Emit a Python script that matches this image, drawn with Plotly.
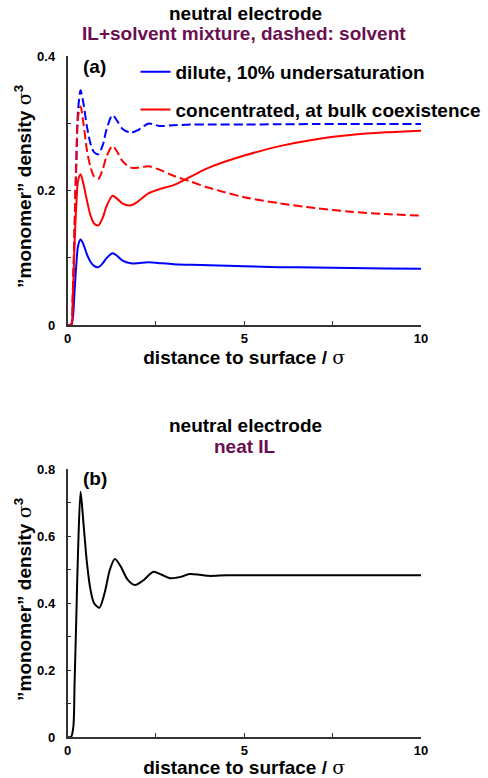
import plotly.graph_objects as go

# ---------------- data (panel a) ----------------
x_a = [0, 0.1, 0.15, 0.2, 0.25, 0.3, 0.37, 0.45, 0.55, 0.65, 0.75, 0.87, 1.0, 1.1, 1.27,
       1.4, 1.55, 1.79, 2.0, 2.3, 2.6, 3.0, 3.5, 4.0, 5.0, 6.0, 7.0, 8.0, 9.0, 10.0]
dilute_il = [0, 0, 0.01, 0.05, 0.09, 0.118, 0.127, 0.12, 0.105, 0.094, 0.088, 0.086, 0.092,
             0.099, 0.1066, 0.103, 0.096, 0.0917, 0.092, 0.0932, 0.092, 0.0905, 0.0895,
             0.089, 0.0875, 0.086, 0.0855, 0.0848, 0.084, 0.0835]
dilute_solvent = [0, 0, 0.04, 0.14, 0.24, 0.32, 0.349, 0.33, 0.295, 0.27, 0.257, 0.254, 0.268,
                  0.29, 0.312, 0.304, 0.292, 0.286, 0.29, 0.2995, 0.296, 0.297, 0.298, 0.298,
                  0.298, 0.2985, 0.2988, 0.299, 0.299, 0.299]
conc_il = [0, 0, 0.04, 0.12, 0.18, 0.215, 0.224, 0.21, 0.185, 0.163, 0.151, 0.148, 0.16,
           0.176, 0.192, 0.188, 0.181, 0.178, 0.184, 0.196, 0.202, 0.208, 0.221, 0.234,
           0.252, 0.266, 0.276, 0.2825, 0.2865, 0.289]
conc_solvent = [0, 0, 0.05, 0.15, 0.25, 0.31, 0.325, 0.3, 0.26, 0.235, 0.221, 0.217, 0.232,
                0.25, 0.266, 0.258, 0.244, 0.234, 0.234, 0.236, 0.231, 0.222, 0.213, 0.204,
                0.19, 0.181, 0.174, 0.1685, 0.165, 0.1625]

# ---------------- data (panel b) ----------------
x_b = [0, 0.1, 0.165, 0.2, 0.25, 0.3, 0.37, 0.45, 0.55, 0.65, 0.75, 0.9, 1.05, 1.2, 1.34,
       1.5, 1.7, 1.91, 2.15, 2.43, 2.65, 2.9, 3.2, 3.45, 3.75, 4.0, 4.5, 5, 6, 7, 8, 9, 10]
neat_il = [0, 0, 0.03, 0.16, 0.36, 0.56, 0.732, 0.64, 0.52, 0.44, 0.4, 0.386, 0.43, 0.5,
           0.531, 0.51, 0.47, 0.454, 0.468, 0.493, 0.485, 0.474, 0.478, 0.4866, 0.484,
           0.481, 0.483, 0.483, 0.483, 0.483, 0.483, 0.483, 0.483]

x_ticks = [0, 5, 10]
ya_ticks = [0, 0.2, 0.4]
yb_ticks = [0, 0.2, 0.4, 0.6, 0.8]

BLUE = "#0000ff"
RED = "#ff0000"
PURPLE = "#6b0f50"
FONT = "Liberation Sans"
DASH = "9px,4px"

fig = go.Figure()
fig.add_trace(go.Scatter(x=x_a, y=dilute_solvent, mode="lines", line=dict(color=BLUE, width=2, dash=DASH, shape="spline", smoothing=0.8),
                         showlegend=False, xaxis="x", yaxis="y"))
fig.add_trace(go.Scatter(x=x_a, y=conc_solvent, mode="lines", line=dict(color=RED, width=2, dash=DASH, shape="spline", smoothing=0.8),
                         showlegend=False, xaxis="x", yaxis="y"))
fig.add_trace(go.Scatter(x=x_a, y=dilute_il, mode="lines", name="dilute, 10% undersaturation",
                         line=dict(color=BLUE, width=2, shape="spline", smoothing=0.8), legendgroup="g1", xaxis="x", yaxis="y"))
fig.add_trace(go.Scatter(x=x_a, y=conc_il, mode="lines", name="concentrated, at bulk coexistence",
                         line=dict(color=RED, width=2, shape="spline", smoothing=0.8), legendgroup="g2", xaxis="x", yaxis="y"))
fig.add_trace(go.Scatter(x=x_b, y=neat_il, mode="lines", line=dict(color="black", width=2, shape="spline", smoothing=0.8),
                         showlegend=False, xaxis="x2", yaxis="y2"))

W, H = 488, 778
xdom = [67.5 / W, 421 / W]
ya_dom = [1 - 325 / H, 1 - 56 / H]
yb_dom = [1 - 737 / H, 1 - 469 / H]

sig = "<span style=\"font-family:'DejaVu Serif';font-weight:normal\">σ</span>"
ytitle = "\u201dmonomer\u201d density " + sig + "<sup>3</sup>"

def xax(domain, anchor):
    return dict(domain=domain, anchor=anchor, range=[0, 10], tickvals=x_ticks,
                ticktext=[str(v) for v in x_ticks], ticks="inside", ticklen=4, tickwidth=1,
                tickcolor="#333", showline=True, linecolor="#333", linewidth=1.5, mirror=False,
                showgrid=False, zeroline=False, ticklabelstandoff=1, automargin=False,
                minor=dict(tickvals=[2.5, 7.5], ticks="inside", ticklen=4, tickcolor="#333"),
                tickfont=dict(family=FONT, size=13, color="black", weight="bold"),
                title=dict(text="distance to surface / " + sig, standoff=0,
                           font=dict(family=FONT, size=19, color="black", weight="bold")))

def yax(domain, anchor, rng, ticks, minor_vals):
    return dict(domain=domain, anchor=anchor, range=rng, tickvals=ticks,
                ticktext=[("%g" % v) for v in ticks], ticks="inside", ticklen=4, tickwidth=1,
                tickcolor="#333", showline=True, linecolor="#333", linewidth=1.5, mirror=False,
                showgrid=False, zeroline=False, ticklabelstandoff=8, automargin=False,
                minor=dict(tickvals=minor_vals, ticks="inside", ticklen=4, tickcolor="#333"),
                tickfont=dict(family=FONT, size=13, color="black", weight="bold"))

def ann(text, px, py, color="black", xanchor="center", angle=0):
    return dict(text="<b>" + text + "</b>", x=px / W, y=1 - py / H, xref="paper", yref="paper",
                xanchor=xanchor, yanchor="middle", showarrow=False, textangle=angle,
                font=dict(family=FONT, size=19, color=color))

fig.update_layout(
    width=W, height=H, autosize=False,
    margin=dict(l=0, r=0, t=0, b=0, autoexpand=False),
    paper_bgcolor="white", plot_bgcolor="white",
    xaxis=xax(xdom, "y"),
    yaxis=yax(ya_dom, "x", [0, 0.4], ya_ticks, [0.1, 0.3]),
    xaxis2=xax(xdom, "y2"),
    yaxis2=yax(yb_dom, "x2", [0, 0.8], yb_ticks, [0.1, 0.3, 0.5, 0.7]),
    showlegend=True,
    legend=dict(x=135.5 / W, y=1 - 53 / H, xanchor="left", yanchor="top", bgcolor="rgba(0,0,0,0)",
                font=dict(family=FONT, size=19, color="black", weight="bold"),
                tracegroupgap=10, itemwidth=30),
    annotations=[
        ann("neutral electrode", 245, 14),
        ann("IL+solvent mixture, dashed: solvent", 244, 34, PURPLE),
        ann("(a)", 81, 66, xanchor="left"),
        ann(ytitle, 23, 187, angle=-90),
        ann("neutral electrode", 245, 425),
        ann("neat IL", 245, 447, PURPLE),
        ann("(b)", 81, 478, xanchor="left"),
        ann(ytitle, 23, 600, angle=-90),
    ],
)

fig.write_html("out.html", config={"displayModeBar": False},
               post_script="document.body.style.margin='0';document.body.style.overflow='hidden';")
